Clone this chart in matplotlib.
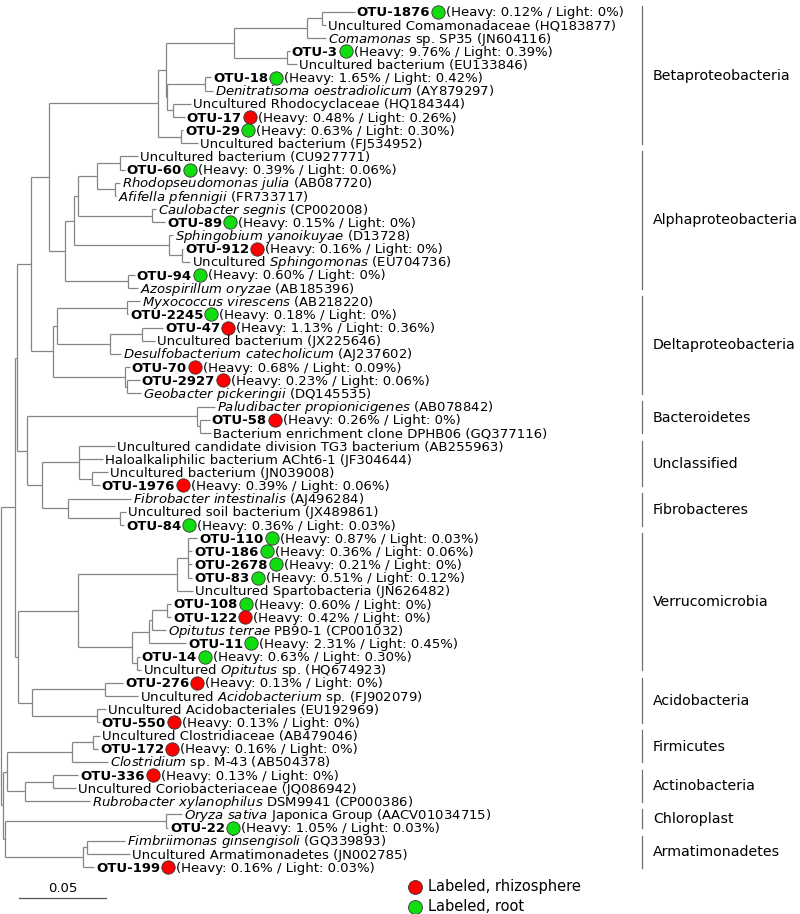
import matplotlib
matplotlib.use("Agg")
import matplotlib.pyplot as plt
from matplotlib.transforms import IdentityTransform
from matplotlib.collections import LineCollection

# ---------------- data ----------------
# leaf labels, top to bottom; text between underscores is italic
leaf_labels = [
    "OTU-1876", "Uncultured Comamonadaceae (HQ183877)", "_Comamonas_ sp. SP35 (JN604116)",
    "OTU-3", "Uncultured bacterium (EU133846)", "OTU-18",
    "_Denitratisoma oestradiolicum_ (AY879297)", "Uncultured Rhodocyclaceae (HQ184344)",
    "OTU-17", "OTU-29", "Uncultured bacterium (FJ534952)",
    "Uncultured bacterium (CU927771)", "OTU-60", "_Rhodopseudomonas julia_ (AB087720)",
    "_Afifella pfennigii_ (FR733717)", "_Caulobacter segnis_ (CP002008)", "OTU-89",
    "_Sphingobium yanoikuyae_ (D13728)", "OTU-912", "Uncultured _Sphingomonas_ (EU704736)",
    "OTU-94", "_Azospirillum oryzae_ (AB185396)",
    "_Myxococcus virescens_ (AB218220)", "OTU-2245", "OTU-47", "Uncultured bacterium (JX225646)",
    "_Desulfobacterium catecholicum_ (AJ237602)", "OTU-70", "OTU-2927",
    "_Geobacter pickeringii_ (DQ145535)",
    "_Paludibacter propionicigenes_ (AB078842)", "OTU-58",
    "Bacterium enrichment clone DPHB06 (GQ377116)",
    "Uncultured candidate division TG3 bacterium (AB255963)",
    "Haloalkaliphilic bacterium ACht6-1 (JF304644)", "Uncultured bacterium (JN039008)",
    "OTU-1976", "_Fibrobacter intestinalis_ (AJ496284)", "Uncultured soil bacterium (JX489861)",
    "OTU-84",
    "OTU-110", "OTU-186", "OTU-2678", "OTU-83", "Uncultured Spartobacteria (JN626482)",
    "OTU-108", "OTU-122", "_Opitutus terrae_ PB90-1 (CP001032)", "OTU-11", "OTU-14",
    "Uncultured _Opitutus_ sp. (HQ674923)",
    "OTU-276", "Uncultured _Acidobacterium_ sp. (FJ902079)",
    "Uncultured Acidobacteriales (EU192969)", "OTU-550",
    "Uncultured Clostridiaceae (AB479046)", "OTU-172", "_Clostridium_ sp. M-43 (AB504378)",
    "OTU-336", "Uncultured Coriobacteriaceae (JQ086942)",
    "_Rubrobacter xylanophilus_ DSM9941 (CP000386)",
    "_Oryza sativa_ Japonica Group (AACV01034715)", "OTU-22",
    "_Fimbriimonas ginsengisoli_ (GQ339893)", "Uncultured Armatimonadetes (JN002785)", "OTU-199",
]

# distance from root (substitutions per site)
leaf_depth = [
    0.2030, 0.1865, 0.1863, 0.1656, 0.1700, 0.1206, 0.1216, 0.1091, 0.1053, 0.1043, 0.1129,
    0.0784, 0.0708, 0.0679, 0.0660, 0.0890, 0.0941, 0.0986, 0.1043, 0.1082, 0.0766, 0.0784,
    0.0794, 0.0727, 0.0928, 0.0880, 0.0689, 0.0737, 0.0794, 0.0803,
    0.1225, 0.1197, 0.1206,
    0.0651, 0.0583, 0.0612, 0.0564,
    0.0746, 0.0717, 0.0704,
    0.1125, 0.1097, 0.1097, 0.1097, 0.1101, 0.0976, 0.0976, 0.0947, 0.1062, 0.0794, 0.0803,
    0.0698, 0.0784, 0.0602, 0.0564,
    0.0564, 0.0555, 0.0612,
    0.0440, 0.0430, 0.0507,
    0.1039, 0.0957,
    0.0708, 0.0740, 0.0532,
]

# internal nodes (children listed top to bottom), in bottom-up order
node_names = [
    "b1", "b2", "b3", "b4", "b5", "b6", "b7", "b8", "b9", "beta",
    "a1", "a2", "a3", "a4", "a5", "a6", "a7", "a8", "a9", "alpha", "prot",
    "d1", "d2", "d3", "d4", "d5", "d6", "delta", "pd",
    "c1", "bact", "u1", "uncl", "f1", "fibro", "uf", "buf", "n17",
    "v1", "v2", "v3", "v4", "v5", "v6", "v7", "verr", "ac1", "ac2", "acid", "va", "upper",
    "m1", "firm", "t1", "act", "fa", "chl", "r1", "arm", "ca", "lower", "root",
]
node_children = [
    [0, 1], ["b1", 2], [3, 4], ["b2", "b3"], [5, 6], [7, 8], ["b5", "b6"], ["b4", "b7"],
    [9, 10], ["b8", "b9"],
    [11, 12], [13, 14], ["a1", "a2"], [15, 16], ["a3", "a4"], [18, 19], [17, "a6"],
    ["a5", "a7"], [20, 21], ["a8", "a9"], ["beta", "alpha"],
    [22, 23], [24, 25], ["d2", 26], ["d1", "d3"], [28, 29], [27, "d5"], ["d4", "d6"],
    ["prot", "delta"],
    [31, 32], [30, "c1"], [35, 36], [33, 34, "u1"], [38, 39], [37, "f1"], ["uncl", "fibro"],
    ["bact", "uf"], ["pd", "buf"],
    [40, 41, 42, 43], ["v1", 44], [45, 46], ["v3", 47], ["v4", 48], [49, 50], ["v5", "v6"],
    ["v2", "v7"], [51, 52], [53, 54], ["ac1", "ac2"], ["verr", "acid"], ["n17", "va"],
    [55, 56], ["m1", 57], [58, 59], ["t1", 60], ["firm", "act"], [61, 62], [63, 64],
    ["r1", 65], ["chl", "arm"], ["fa", "ca"], ["upper", "lower"],
]
node_depth = [
    0.1840, 0.1754, 0.1639, 0.1336, 0.1170, 0.0986, 0.0951, 0.0944, 0.1032, 0.0901,
    0.0681, 0.0652, 0.0547, 0.0863, 0.0441, 0.1039, 0.0963, 0.0417, 0.0729, 0.0365, 0.0275,
    0.0720, 0.0806, 0.0624, 0.0317, 0.0721, 0.0710, 0.0298, 0.0170,
    0.1141, 0.1122, 0.0518, 0.0445, 0.0681, 0.0384, 0.0231, 0.0145, 0.0091,
    0.1072, 0.1007, 0.0949, 0.0863, 0.0848, 0.0777, 0.0748, 0.0441, 0.0595, 0.0547, 0.0174,
    0.0097, 0.0078,
    0.0528, 0.0403, 0.0298, 0.0135, 0.0030, 0.0945, 0.0493, 0.0470, 0.0018, 0.0007, 0.0,
]

# labeled OTUs: abundance in heavy / light fraction (%) and where labeled
otu_names = ["OTU-1876", "OTU-3", "OTU-18", "OTU-17", "OTU-29", "OTU-60", "OTU-89", "OTU-912",
             "OTU-94", "OTU-2245", "OTU-47", "OTU-70", "OTU-2927", "OTU-58", "OTU-1976",
             "OTU-84", "OTU-110", "OTU-186", "OTU-2678", "OTU-83", "OTU-108", "OTU-122",
             "OTU-11", "OTU-14", "OTU-276", "OTU-550", "OTU-172", "OTU-336", "OTU-22", "OTU-199"]
otu_heavy = [0.12, 9.76, 1.65, 0.48, 0.63, 0.39, 0.15, 0.16, 0.60, 0.18, 1.13, 0.68, 0.23, 0.26,
             0.39, 0.36, 0.87, 0.36, 0.21, 0.51, 0.60, 0.42, 2.31, 0.63, 0.13, 0.13, 0.16, 0.13,
             1.05, 0.16]
otu_light = [0, 0.39, 0.42, 0.26, 0.30, 0.06, 0, 0, 0, 0, 0.36, 0.09, 0.06, 0, 0.06, 0.03, 0.03,
             0.06, 0, 0.12, 0, 0, 0.45, 0.30, 0, 0, 0, 0, 0.03, 0.03]
otu_site = ["root", "root", "root", "rhizo", "root", "root", "root", "rhizo", "root", "root",
            "rhizo", "rhizo", "rhizo", "rhizo", "rhizo", "root", "root", "root", "root", "root",
            "root", "rhizo", "root", "root", "rhizo", "rhizo", "rhizo", "rhizo", "root", "rhizo"]

group_names = ["Betaproteobacteria", "Alphaproteobacteria", "Deltaproteobacteria", "Bacteroidetes",
               "Unclassified", "Fibrobacteres", "Verrucomicrobia", "Acidobacteria", "Firmicutes",
               "Actinobacteria", "Chloroplast", "Armatimonadetes"]
group_first = [0, 11, 22, 30, 33, 37, 40, 51, 55, 58, 61, 63]
group_last = [10, 21, 29, 32, 36, 39, 50, 54, 57, 60, 62, 65]

# ---------------- layout ----------------
W, H = 800, 914
PX = 87 / 0.05           # pixels per substitution
X0 = 1.5                 # root position (px)
ROW0, ROW = 11.7, 13.16  # first row and row spacing (px)
FS = 9.5
BASE = 4.6               # px from row centre down to text baseline
COL = {"rhizo": "#ff0000", "root": "#11dd11"}
LINE = "#858585"
plt.rcParams["mathtext.fontset"] = "dejavusans"

fig = plt.figure(figsize=(W / 100, H / 100), dpi=100)
ax = fig.add_axes([0, 0, 1, 1])
ax.set_xlim(-X0 / PX, (W - X0) / PX)
ax.set_ylim((H - ROW0) / ROW, -ROW0 / ROW)
ax.set_autoscale_on(False)
ax.axis("off")

# node positions
ypos = {i: float(i) for i in range(len(leaf_labels))}
depth = {i: d for i, d in enumerate(leaf_depth)}
parent = {}
for name, kids, d in zip(node_names, node_children, node_depth):
    ypos[name] = (ypos[kids[0]] + ypos[kids[-1]]) / 2
    depth[name] = d
    for k in kids:
        parent[k] = name

segs = []
for k, p in parent.items():
    segs.append([(depth[p], ypos[k]), (depth[k], ypos[k])])
for name, kids in zip(node_names, node_children):
    segs.append([(depth[name], ypos[kids[0]]), (depth[name], ypos[kids[-1]])])
ax.add_collection(LineCollection(segs, colors=LINE, linewidths=0.9))

# ---------------- labels ----------------
renderer = fig.canvas.get_renderer()
ident = IdentityTransform()


def to_math(lab):
    parts = lab.split("_")
    out = ""
    for k, p in enumerate(parts):
        if k % 2:
            out += r"$\mathit{" + p.replace(" ", r"\ ") + "}$"
        else:
            out += p
    return out


def pct(v):
    return "%.2f%%" % v if v else "0%"


for i, lab in enumerate(leaf_labels):
    xd, yd = ax.transData.transform((leaf_depth[i], i))
    xd += 2
    yb = yd - BASE
    if lab in otu_names:
        j = otu_names.index(lab)
        t = ax.text(xd, yb, lab, transform=ident, fontsize=FS, weight="bold",
                    va="baseline", ha="left")
        xd += t.get_window_extent(renderer).width
        ax.plot([xd + 8], [yd], "o", ms=9.6, mfc=COL[otu_site[j]], mec="#333333",
                mew=0.6, transform=ident, clip_on=False)
        ax.text(xd + 16, yb, "(Heavy: %s / Light: %s)" % (pct(otu_heavy[j]), pct(otu_light[j])),
                transform=ident, fontsize=FS, va="baseline", ha="left")
    else:
        ax.text(xd, yb, to_math(lab), transform=ident, fontsize=FS, va="baseline", ha="left")

# group brackets
for g, a, b in zip(group_names, group_first, group_last):
    ax.plot([641.7, 641.7], [H - (ROW0 + (a - 0.4) * ROW), H - (ROW0 + (b + 0.05) * ROW)],
            color="#707070", lw=0.9, transform=ident)
    ax.text(653, H - (ROW0 + ((a + b) / 2 - 0.15) * ROW), g, transform=ident,
            fontsize=10.2, va="center", ha="left")

# scale bar (0.05 substitutions per site)
sb0 = 0.01
ax.plot([sb0, sb0 + 0.05], [(898.3 - ROW0) / ROW] * 2, color="#555555", lw=0.9)
ax.text(sb0 + 0.025, (889 - ROW0) / ROW, "0.05", fontsize=FS, ha="center", va="center")

# legend
for k, (key, txt) in enumerate([("rhizo", "Labeled, rhizosphere"), ("root", "Labeled, root")]):
    yd = H - (886.7 + 20 * k)
    ax.plot([415], [yd], "o", ms=10, mfc=COL[key], mec="#333333", mew=0.6,
            transform=ident, clip_on=False)
    ax.text(428, yd, txt, transform=ident, fontsize=10.5, va="center", ha="left")

fig.savefig("out.png", dpi=100)
